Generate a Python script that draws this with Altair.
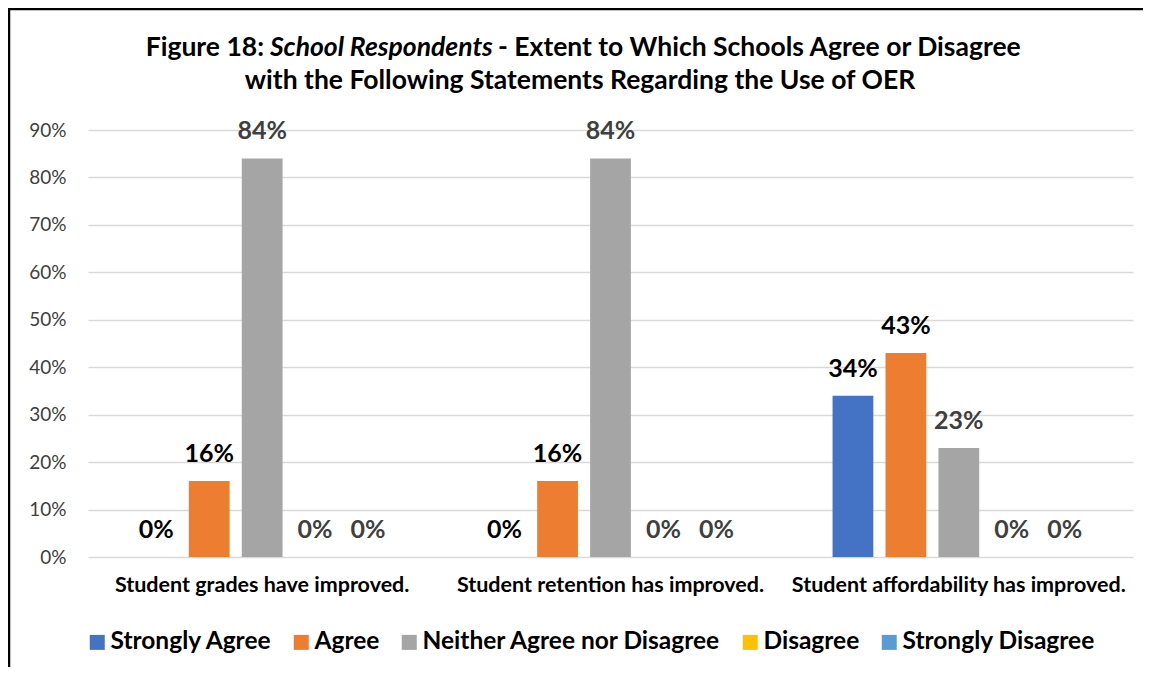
import altair as alt
import pandas as pd

categories = ["Student grades have improved.",
              "Student retention has improved.",
              "Student affordability has improved."]
series = ["Strongly Agree", "Agree", "Neither Agree nor Disagree", "Disagree", "Strongly Disagree"]
colors = ["#4472C4", "#ED7D31", "#A5A5A5", "#FFC000", "#5B9BD5"]
label_colors = ["#000000", "#000000", "#404040", "#404040", "#404040"]
strongly_agree = [0, 0, 34]
agree = [16, 16, 43]
neither = [84, 84, 23]
disagree = [0, 0, 0]
strongly_disagree = [0, 0, 0]
y_ticks = [0, 10, 20, 30, 40, 50, 60, 70, 80, 90]

values = [strongly_agree, agree, neither, disagree, strongly_disagree]
rows = []
for s, vals, lc in zip(series, values, label_colors):
    for c, v in zip(categories, vals):
        rows.append({"category": c, "series": s, "value": v,
                     "label": f"{v}%", "lc": lc})
df = pd.DataFrame(rows)

FONT = "Lato"
W, H = 1045, 427
TFS = 26.5

x = alt.X("category:N", sort=categories, title=None,
          scale=alt.Scale(paddingInner=0.24, paddingOuter=0.12),
          axis=alt.Axis(labelFont=FONT, labelFontSize=21.5, labelFontWeight="bold",
                        labelColor="#000000", labelPadding=17, ticks=False,
                        domain=False, labelAngle=0, labelLimit=0))
xo = alt.XOffset("series:N", sort=series,
                 scale=alt.Scale(paddingInner=0.23, paddingOuter=0.115))
y = alt.Y("value:Q", title=None,
          scale=alt.Scale(domain=[0, 90], nice=False),
          axis=alt.Axis(values=y_ticks, labelExpr="datum.value + '%'",
                        labelFont=FONT, labelFontSize=19, labelColor="#404040",
                        labelPadding=22, ticks=False, domain=False,
                        gridColor="#D9D9D9", gridWidth=1.5))

bars = alt.Chart(df).mark_bar().encode(
    x=x, xOffset=xo, y=y,
    color=alt.Color("series:N", sort=series,
                    scale=alt.Scale(domain=series, range=colors),
                    legend=alt.Legend(title=None, orient="none", direction="horizontal",
                                      legendX=-3, legendY=500,
                                      symbolType="square", symbolSize=225,
                                      symbolStrokeWidth=0,
                                      labelFont=FONT, labelFontSize=24.5,
                                      labelFontWeight="bold", labelColor="#000000",
                                      labelOffset=1, columnPadding=17, labelLimit=500)),
)

labels = alt.Chart(df).mark_text(font=FONT, fontSize=25, fontWeight="bold",
                                 baseline="alphabetic", dy=-19).encode(
    x=x, xOffset=xo, y=y,
    text="label:N",
    color=alt.Color("lc:N", scale=None),
)

title_l1a = alt.Chart(pd.DataFrame({"t": ["Figure 18:"]})).mark_text(
    font=FONT, fontSize=TFS, fontWeight="bold", align="right", baseline="alphabetic",
    color="#000000").encode(x=alt.value(176), y=alt.value(-74), text="t:N")
title_l1b = alt.Chart(pd.DataFrame({"t": ["School Respondents"]})).mark_text(
    font=FONT, fontSize=TFS, fontWeight="bold", fontStyle="italic", align="left",
    baseline="alphabetic", color="#000000").encode(x=alt.value(182), y=alt.value(-74), text="t:N")
title_l1c = alt.Chart(pd.DataFrame({"t": ["- Extent to Which Schools Agree or Disagree"]})).mark_text(
    font=FONT, fontSize=TFS, fontWeight="bold", align="left", baseline="alphabetic",
    color="#000000").encode(x=alt.value(410), y=alt.value(-74), text="t:N")
title_l2 = alt.Chart(pd.DataFrame({"t": ["with the Following Statements Regarding the Use of OER"]})).mark_text(
    font=FONT, fontSize=TFS, fontWeight="bold", align="center", baseline="alphabetic",
    color="#000000").encode(x=alt.value(492), y=alt.value(-41), text="t:N")

border_left = alt.Chart(pd.DataFrame({"a": [0]})).mark_rule(color="#000000", strokeWidth=2.5).encode(
    x=alt.value(-79), y=alt.value(-122), y2=alt.value(H + 110))
border_top = alt.Chart(pd.DataFrame({"a": [0]})).mark_rule(color="#000000", strokeWidth=2.5).encode(
    y=alt.value(-121), x=alt.value(-80), x2=alt.value(W + 10))

chart = alt.layer(bars, labels, title_l1a, title_l1b, title_l1c, title_l2,
                  border_left, border_top).properties(
    width=W, height=H,
    autosize=alt.AutoSizeParams(type="none"),
    padding={"left": 80, "top": 122, "right": 10, "bottom": 110},
    background="#FFFFFF",
).configure_view(stroke=None)

chart.save("out.html", embed_options={"renderer": "svg", "actions": False})
